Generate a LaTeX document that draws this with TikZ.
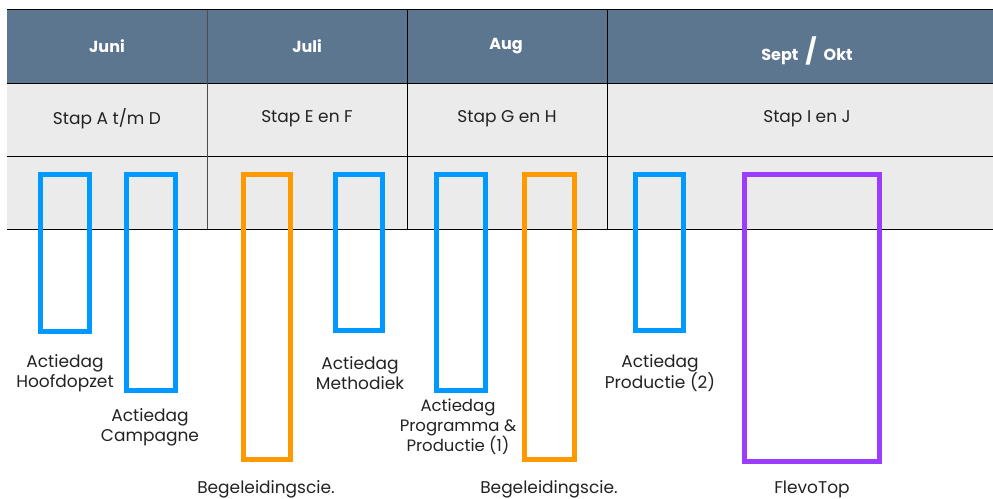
\documentclass[tikz,border=0pt]{standalone}
\usepackage{fontspec}
\setmainfont{Poppins}
\definecolor{hdr}{HTML}{5D7690}
\definecolor{rowg}{HTML}{EBEBEB}
\definecolor{cblue}{HTML}{0099FF}
\definecolor{corange}{HTML}{FF9900}
\definecolor{cpurple}{HTML}{9B3DFF}
\definecolor{txt}{HTML}{222222}
\tikzset{
  hdrtext/.style={text=white, font=\fontsize{16}{18}\selectfont\bfseries, inner sep=0pt},
  steptext/.style={text=txt, font=\fontsize{17}{18}\selectfont, inner sep=0pt},
  lbl/.style={text=txt, font=\fontsize{17}{20}\selectfont, align=center, inner sep=0pt},
  bar/.style={line width=5pt},
  gridline/.style={line width=1pt, black}
}
\begin{document}
\begin{tikzpicture}[x=1pt,y=-1pt]
\useasboundingbox (0,0) rectangle (993,498);
% table backgrounds
\fill[hdr] (7,9.5) rectangle (993,83);
\fill[rowg] (7,83) rectangle (993,156);
\fill[rowg] (7,156) rectangle (993,229);
% lines
\foreach \yy in {9.5,83,156,229.3} \draw[gridline] (7,\yy) -- (993,\yy);
\draw[line width=1pt, black!70] (207,9.5) -- (207,229.3);
\draw[gridline] (407,9.5) -- (407,229.3);
\draw[gridline] (607,9.5) -- (607,229.3);
% header
\node[hdrtext] (h1) at (107,46) {Juni};
\node[hdrtext] (h2) at (307,46) {Juli};
\node[hdrtext] (h3) at (506,46) {Aug};
\node[hdrtext] (h4) at (807,51) {Sept\hspace{7pt}\raisebox{-0.5pt}{\fontsize{25}{25}\selectfont /}\hspace{7pt}Okt};
% step row
\node[steptext] (s1) at (107,119) {Stap A t/m D};
\node[steptext] (s2) at (307,119) {Stap E en F};
\node[steptext] (s3) at (507,119) {Stap G en H};
\node[steptext] (s4) at (807,119) {Stap I en J};
% bars
\draw[bar, cblue] (40.5,174.5) rectangle (89.5,331.5);
\draw[bar, cblue] (126.5,174.5) rectangle (175.5,390.5);
\draw[bar, corange] (243.5,174.5) rectangle (290.5,459.5);
\draw[bar, cblue] (335.5,174.5) rectangle (382.5,330.5);
\draw[bar, cblue] (436.5,174.5) rectangle (485.5,390.5);
\draw[bar, corange] (524.5,174.5) rectangle (574.5,459.5);
\draw[bar, cblue] (635.5,174.5) rectangle (683.5,330.5);
\draw[bar, cpurple] (744,174.5) rectangle (879.5,461);
% labels
\node[lbl] (l1) at (65,373) {Actiedag\\Hoofdopzet};
\node[lbl] (l2) at (150,427) {Actiedag\\Campagne};
\node[lbl] (l3) at (266,489) {Begeleidingscie.};
\node[lbl] (l4) at (360,373) {Actiedag\\Methodiek};
\node[lbl, font=\fontsize{16.5}{20}\selectfont] (l5) at (458,427) {Actiedag\\Programma \&\\Productie (1)};
\node[lbl] (l6) at (549,489) {Begeleidingscie.};
\node[lbl] (l7) at (660,373) {Actiedag\\Productie (2)};
\node[lbl] (l8) at (812,489) {FlevoTop};
\end{tikzpicture}
\end{document}
